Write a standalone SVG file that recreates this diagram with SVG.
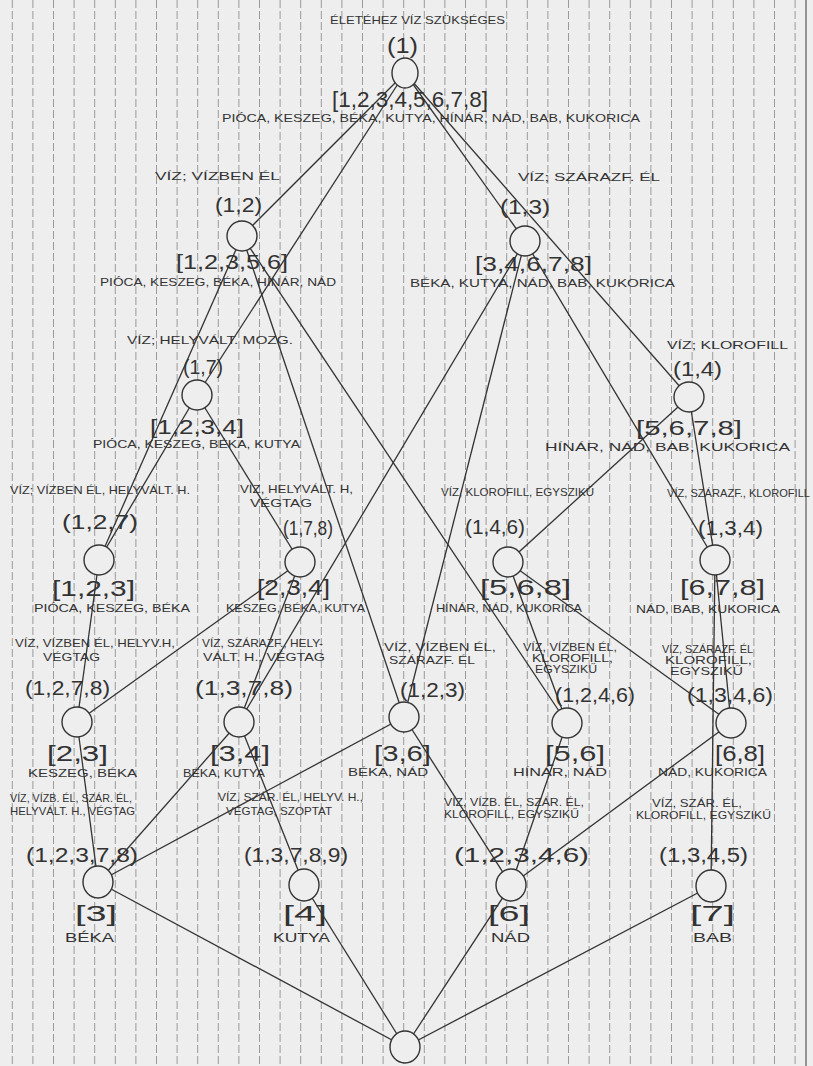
<svg xmlns="http://www.w3.org/2000/svg" width="813" height="1066" viewBox="0 0 813 1066">
<style>
.t{font-family:"Liberation Sans",Arial,sans-serif;fill:#333;font-size:11px}
.n{font-family:"Liberation Sans",Arial,sans-serif;fill:#333;font-size:20px}
.b{font-family:"Liberation Sans",Arial,sans-serif;fill:#333;font-size:22px}
.o{font-family:"Liberation Sans",Arial,sans-serif;fill:#333;font-size:13px}
.c{fill:#eeeeee;stroke:#333;stroke-width:1.4}
.e{stroke:#333;stroke-width:1.3}
.r{stroke:#9a9a9a;stroke-width:1;stroke-dasharray:8 3}
</style>
<rect width="813" height="1066" fill="#eeeeee"/>
<g id="ruling">
<path class="r" d="M12.3 0V1066M32.9 0V1066M53.5 0V1066M74.1 0V1066M94.7 0V1066M115.3 0V1066M135.9 0V1066M156.5 0V1066M177.1 0V1066M197.7 0V1066M218.3 0V1066M238.9 0V1066M259.5 0V1066M280.1 0V1066M300.7 0V1066M321.3 0V1066M341.9 0V1066M362.5 0V1066M383.1 0V1066M403.7 0V1066M424.3 0V1066M444.9 0V1066M465.5 0V1066M486.1 0V1066M506.7 0V1066M527.3 0V1066M547.9 0V1066M568.5 0V1066M589.1 0V1066M609.7 0V1066M630.3 0V1066M650.9 0V1066M671.5 0V1066M692.1 0V1066M712.7 0V1066M733.3 0V1066M753.9 0V1066M774.5 0V1066M795.1 0V1066"/>
<path d="M806 0V1066" stroke="#777" stroke-width="1.5"/>
</g>
<g id="connectors">
<line class="e" x1="405" y1="73" x2="242" y2="236"/>
<line class="e" x1="405" y1="73" x2="525" y2="241"/>
<line class="e" x1="405" y1="73" x2="197" y2="395"/>
<line class="e" x1="405" y1="73" x2="689" y2="397"/>
<line class="e" x1="242" y1="236" x2="99" y2="560"/>
<line class="e" x1="242" y1="236" x2="404" y2="717"/>
<line class="e" x1="242" y1="236" x2="567" y2="723"/>
<line class="e" x1="525" y1="241" x2="239" y2="722"/>
<line class="e" x1="525" y1="241" x2="404" y2="717"/>
<line class="e" x1="525" y1="241" x2="715" y2="560"/>
<line class="e" x1="197" y1="395" x2="99" y2="560"/>
<line class="e" x1="197" y1="395" x2="300" y2="562"/>
<line class="e" x1="689" y1="397" x2="508" y2="562"/>
<line class="e" x1="689" y1="397" x2="715" y2="560"/>
<line class="e" x1="99" y1="560" x2="77" y2="722"/>
<line class="e" x1="300" y1="562" x2="77" y2="722"/>
<line class="e" x1="300" y1="562" x2="239" y2="722"/>
<line class="e" x1="508" y1="562" x2="567" y2="723"/>
<line class="e" x1="508" y1="562" x2="731" y2="723"/>
<line class="e" x1="715" y1="560" x2="731" y2="723"/>
<line class="e" x1="715" y1="560" x2="711" y2="886"/>
<line class="e" x1="77" y1="722" x2="98" y2="882"/>
<line class="e" x1="239" y1="722" x2="98" y2="882"/>
<line class="e" x1="239" y1="722" x2="304" y2="885"/>
<line class="e" x1="404" y1="717" x2="98" y2="882"/>
<line class="e" x1="404" y1="717" x2="511" y2="885"/>
<line class="e" x1="567" y1="723" x2="511" y2="885"/>
<line class="e" x1="731" y1="723" x2="511" y2="885"/>
<line class="e" x1="98" y1="882" x2="405" y2="1047"/>
<line class="e" x1="304" y1="885" x2="405" y2="1047"/>
<line class="e" x1="511" y1="885" x2="405" y2="1047"/>
<line class="e" x1="711" y1="886" x2="405" y2="1047"/>
</g>
<g id="n1">
<text class="t" x="330" y="24" font-size="10" textLength="175" lengthAdjust="spacingAndGlyphs">ÉLETÉHEZ VÍZ SZÜKSÉGES</text>
<text class="b" x="387" y="53" textLength="31" lengthAdjust="spacingAndGlyphs">(1)</text>
<ellipse class="c" cx="405" cy="73" rx="13" ry="15"/>
<text class="b" x="332" y="107" textLength="156" lengthAdjust="spacingAndGlyphs">[1,2,3,4,5,6,7,8]</text>
<text class="t" x="222" y="122" textLength="418" lengthAdjust="spacingAndGlyphs">PIÓCA, KESZEG, BÉKA, KUTYA, HÍNÁR, NÁD, BAB, KUKORICA</text>
</g>
<g id="n12">
<text class="t" x="155" y="180" textLength="125" lengthAdjust="spacingAndGlyphs">VÍZ; VÍZBEN ÉL</text>
<text class="n" x="215" y="212" textLength="47" lengthAdjust="spacingAndGlyphs">(1,2)</text>
<ellipse class="c" cx="242" cy="236" rx="15" ry="15"/>
<text class="n" x="176" y="269" textLength="112" lengthAdjust="spacingAndGlyphs">[1,2,3,5,6]</text>
<text class="t" x="100" y="286" textLength="236" lengthAdjust="spacingAndGlyphs">PIÓCA, KESZEG, BÉKA, HÍNÁR, NÁD</text>
</g>
<g id="n13">
<text class="t" x="518" y="181" textLength="142" lengthAdjust="spacingAndGlyphs">VÍZ; SZÁRAZF. ÉL</text>
<text class="n" x="500" y="214" textLength="50" lengthAdjust="spacingAndGlyphs">(1,3)</text>
<ellipse class="c" cx="525" cy="241" rx="15" ry="15"/>
<text class="n" x="475" y="271" textLength="117" lengthAdjust="spacingAndGlyphs">[3,4,6,7,8]</text>
<text class="t" x="410" y="287" textLength="265" lengthAdjust="spacingAndGlyphs">BÉKA, KUTYA, NÁD, BAB, KUKORICA</text>
</g>
<g id="n17">
<text class="t" x="127" y="344" textLength="166" lengthAdjust="spacingAndGlyphs">VÍZ; HELYVÁLT. MOZG.</text>
<text class="n" x="183" y="374" textLength="40" lengthAdjust="spacingAndGlyphs">(1,7)</text>
<ellipse class="c" cx="197" cy="395" rx="15" ry="15"/>
<text class="n" x="150" y="434" textLength="94" lengthAdjust="spacingAndGlyphs">[1,2,3,4]</text>
<text class="t" x="93" y="448" textLength="207" lengthAdjust="spacingAndGlyphs">PIÓCA, KESZEG, BÉKA, KUTYA</text>
</g>
<g id="n14">
<text class="t" x="667" y="349" textLength="121" lengthAdjust="spacingAndGlyphs">VÍZ; KLOROFILL</text>
<text class="n" x="673" y="376" textLength="49" lengthAdjust="spacingAndGlyphs">(1,4)</text>
<ellipse class="c" cx="689" cy="397" rx="15" ry="15"/>
<text class="n" x="636" y="435" textLength="106" lengthAdjust="spacingAndGlyphs">[5,6,7,8]</text>
<text class="t" x="545" y="451" textLength="245" lengthAdjust="spacingAndGlyphs">HÍNÁR, NÁD, BAB, KUKORICA</text>
</g>
<g id="n127">
<text class="t" x="10" y="494" textLength="180" lengthAdjust="spacingAndGlyphs">VÍZ; VÍZBEN ÉL, HELYVÁLT. H.</text>
<text class="n" x="62" y="529" textLength="76" lengthAdjust="spacingAndGlyphs">(1,2,7)</text>
<ellipse class="c" cx="99" cy="560" rx="15" ry="15"/>
<text class="b" x="52" y="596" textLength="83" lengthAdjust="spacingAndGlyphs">[1,2,3]</text>
<text class="t" x="34" y="612" textLength="156" lengthAdjust="spacingAndGlyphs">PIÓCA, KESZEG, BÉKA</text>
</g>
<g id="n178">
<text class="t" x="240" y="493" textLength="113" lengthAdjust="spacingAndGlyphs">VÍZ, HELYVÁLT. H,</text>
<text class="t" x="250" y="507" textLength="62" lengthAdjust="spacingAndGlyphs">VÉGTAG</text>
<text class="n" x="283" y="535" textLength="50" lengthAdjust="spacingAndGlyphs">(1,7,8)</text>
<ellipse class="c" cx="300" cy="562" rx="15" ry="15"/>
<text class="b" x="257" y="595" textLength="73" lengthAdjust="spacingAndGlyphs">[2,3,4]</text>
<text class="t" x="226" y="612" textLength="139" lengthAdjust="spacingAndGlyphs">KESZEG, BÉKA, KUTYA</text>
</g>
<g id="n146">
<text class="t" x="441" y="496" textLength="153" lengthAdjust="spacingAndGlyphs">VÍZ, KLOROFILL, EGYSZIKŰ</text>
<text class="n" x="465" y="534" textLength="60" lengthAdjust="spacingAndGlyphs">(1,4,6)</text>
<ellipse class="c" cx="508" cy="562" rx="15" ry="15"/>
<text class="b" x="480" y="595" textLength="91" lengthAdjust="spacingAndGlyphs">[5,6,8]</text>
<text class="t" x="436" y="612" textLength="146" lengthAdjust="spacingAndGlyphs">HÍNÁR, NÁD, KUKORICA</text>
</g>
<g id="n134">
<text class="t" x="667" y="497" textLength="143" lengthAdjust="spacingAndGlyphs">VÍZ, SZÁRAZF., KLOROFILL</text>
<text class="n" x="698" y="535" textLength="65" lengthAdjust="spacingAndGlyphs">(1,3,4)</text>
<ellipse class="c" cx="715" cy="560" rx="15" ry="15"/>
<text class="b" x="680" y="595" textLength="85" lengthAdjust="spacingAndGlyphs">[6,7,8]</text>
<text class="t" x="636" y="613" textLength="144" lengthAdjust="spacingAndGlyphs">NÁD, BAB, KUKORICA</text>
</g>
<g id="n1278">
<text class="t" x="15" y="647" textLength="160" lengthAdjust="spacingAndGlyphs">VÍZ, VÍZBEN ÉL, HELYV.H,</text>
<text class="t" x="43" y="661" textLength="57" lengthAdjust="spacingAndGlyphs">VÉGTAG</text>
<text class="n" x="25" y="695" textLength="85" lengthAdjust="spacingAndGlyphs">(1,2,7,8)</text>
<ellipse class="c" cx="77" cy="722" rx="15" ry="15"/>
<text class="b" x="47" y="761" textLength="61" lengthAdjust="spacingAndGlyphs">[2,3]</text>
<text class="t" x="28" y="777" textLength="109" lengthAdjust="spacingAndGlyphs">KESZEG, BÉKA</text>
</g>
<g id="n1378">
<text class="t" x="202" y="647" textLength="121" lengthAdjust="spacingAndGlyphs">VÍZ, SZÁRAZF., HELY-</text>
<text class="t" x="203" y="661" textLength="122" lengthAdjust="spacingAndGlyphs">VÁLT. H., VÉGTAG</text>
<text class="n" x="195" y="695" textLength="98" lengthAdjust="spacingAndGlyphs">(1,3,7,8)</text>
<ellipse class="c" cx="239" cy="722" rx="15" ry="15"/>
<text class="b" x="210" y="761" textLength="60" lengthAdjust="spacingAndGlyphs">[3,4]</text>
<text class="t" x="183" y="777" textLength="82" lengthAdjust="spacingAndGlyphs">BÉKA, KUTYA</text>
</g>
<g id="n123">
<text class="t" x="384" y="651" textLength="112" lengthAdjust="spacingAndGlyphs">VÍZ, VÍZBEN ÉL,</text>
<text class="t" x="389" y="664" textLength="86" lengthAdjust="spacingAndGlyphs">SZÁRAZF. ÉL</text>
<text class="n" x="400" y="697" textLength="65" lengthAdjust="spacingAndGlyphs">(1,2,3)</text>
<ellipse class="c" cx="404" cy="717" rx="15" ry="15"/>
<text class="b" x="374" y="761" textLength="57" lengthAdjust="spacingAndGlyphs">[3,6]</text>
<text class="t" x="348" y="776" textLength="80" lengthAdjust="spacingAndGlyphs">BÉKA, NÁD</text>
</g>
<g id="n1246">
<text class="t" x="523" y="651" font-size="10" textLength="94" lengthAdjust="spacingAndGlyphs">VÍZ, VÍZBEN ÉL,</text>
<text class="t" x="532" y="662" font-size="10" textLength="81" lengthAdjust="spacingAndGlyphs">KLOROFILL,</text>
<text class="t" x="535" y="673" font-size="10" textLength="62" lengthAdjust="spacingAndGlyphs">EGYSZIKŰ</text>
<text class="n" x="555" y="702" textLength="80" lengthAdjust="spacingAndGlyphs">(1,2,4,6)</text>
<ellipse class="c" cx="567" cy="723" rx="15" ry="15"/>
<text class="b" x="545" y="761" textLength="60" lengthAdjust="spacingAndGlyphs">[5,6]</text>
<text class="t" x="513" y="776" textLength="94" lengthAdjust="spacingAndGlyphs">HÍNÁR, NÁD</text>
</g>
<g id="n1346">
<text class="t" x="662" y="653" font-size="10" textLength="91" lengthAdjust="spacingAndGlyphs">VÍZ, SZÁRAZF. ÉL</text>
<text class="t" x="665" y="664" font-size="10" textLength="87" lengthAdjust="spacingAndGlyphs">KLOROFILL,</text>
<text class="t" x="670" y="675" font-size="10" textLength="73" lengthAdjust="spacingAndGlyphs">EGYSZIKŰ</text>
<text class="n" x="687" y="702" textLength="86" lengthAdjust="spacingAndGlyphs">(1,3,4,6)</text>
<ellipse class="c" cx="731" cy="723" rx="15" ry="15"/>
<text class="b" x="715" y="761" textLength="50" lengthAdjust="spacingAndGlyphs">[6,8]</text>
<text class="t" x="658" y="776" textLength="109" lengthAdjust="spacingAndGlyphs">NÁD, KUKORICA</text>
</g>
<g id="n12378">
<text class="t" x="10" y="802" font-size="10" textLength="122" lengthAdjust="spacingAndGlyphs">VÍZ, VÍZB. ÉL, SZÁR. ÉL,</text>
<text class="t" x="10" y="815" font-size="10" textLength="125" lengthAdjust="spacingAndGlyphs">HELYVÁLT. H., VÉGTAG</text>
<text class="n" x="26" y="862" textLength="112" lengthAdjust="spacingAndGlyphs">(1,2,3,7,8)</text>
<ellipse class="c" cx="98" cy="882" rx="15" ry="16"/>
<text class="b" x="75" y="921" textLength="42" lengthAdjust="spacingAndGlyphs">[3]</text>
<text class="o" x="65" y="942" textLength="49" lengthAdjust="spacingAndGlyphs">BÉKA</text>
</g>
<g id="n13789">
<text class="t" x="218" y="801" font-size="10" textLength="145" lengthAdjust="spacingAndGlyphs">VÍZ, SZÁR. ÉL, HELYV. H.,</text>
<text class="t" x="226" y="815" font-size="10" textLength="106" lengthAdjust="spacingAndGlyphs">VÉGTAG, SZOPTAT</text>
<text class="n" x="244" y="862" textLength="104" lengthAdjust="spacingAndGlyphs">(1,3,7,8,9)</text>
<ellipse class="c" cx="304" cy="885" rx="15" ry="16"/>
<text class="b" x="283" y="921" textLength="44" lengthAdjust="spacingAndGlyphs">[4]</text>
<text class="o" x="273" y="942" textLength="57" lengthAdjust="spacingAndGlyphs">KUTYA</text>
</g>
<g id="n12346">
<text class="t" x="444" y="806" font-size="10" textLength="140" lengthAdjust="spacingAndGlyphs">VÍZ, VÍZB. ÉL, SZÁR. ÉL,</text>
<text class="t" x="444" y="818" font-size="10" textLength="135" lengthAdjust="spacingAndGlyphs">KLOROFILL, EGYSZIKŰ</text>
<text class="n" x="454" y="862" textLength="135" lengthAdjust="spacingAndGlyphs">(1,2,3,4,6)</text>
<ellipse class="c" cx="511" cy="885" rx="15" ry="16"/>
<text class="b" x="488" y="921" textLength="42" lengthAdjust="spacingAndGlyphs">[6]</text>
<text class="o" x="491" y="942" textLength="39" lengthAdjust="spacingAndGlyphs">NÁD</text>
</g>
<g id="n1345">
<text class="t" x="652" y="807" font-size="10" textLength="90" lengthAdjust="spacingAndGlyphs">VÍZ, SZÁR. ÉL,</text>
<text class="t" x="636" y="819" font-size="10" textLength="135" lengthAdjust="spacingAndGlyphs">KLOROFILL, EGYSZIKŰ</text>
<text class="n" x="659" y="862" textLength="89" lengthAdjust="spacingAndGlyphs">(1,3,4,5)</text>
<ellipse class="c" cx="711" cy="886" rx="15" ry="16"/>
<text class="b" x="690" y="921" textLength="45" lengthAdjust="spacingAndGlyphs">[7]</text>
<text class="o" x="693" y="942" textLength="39" lengthAdjust="spacingAndGlyphs">BAB</text>
</g>
<g id="nbottom">
<ellipse class="c" cx="405" cy="1047" rx="15" ry="16"/>
</g>
</svg>
